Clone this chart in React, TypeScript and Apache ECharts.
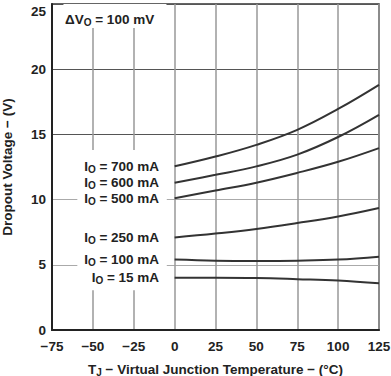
import React, { useEffect, useRef } from "react";
import * as echarts from "echarts";

const temps = [0, 25, 50, 75, 100, 125];
const io700 = [12.55, 13.3, 14.2, 15.35, 16.95, 18.8];
const io600 = [11.3, 11.9, 12.55, 13.45, 14.8, 16.5];
const io500 = [10.1, 10.7, 11.3, 12.05, 12.9, 13.95];
const io250 = [7.1, 7.4, 7.75, 8.2, 8.7, 9.35];
const io100 = [5.4, 5.32, 5.3, 5.32, 5.4, 5.62];
const io15 = [4.0, 4.0, 3.98, 3.9, 3.8, 3.58];
const seriesNames = ["700", "600", "500", "250", "100", "15"];
const seriesValues = [io700, io600, io500, io250, io100, io15];

const FONT = "Liberation Sans, Arial, sans-serif";

export default function App() {
  const ref = useRef<HTMLDivElement>(null);
  useEffect(() => {
    const chart = echarts.init(ref.current!, null, { renderer: "svg" });
    const subStyle = { fontFamily: FONT, fontWeight: "bold", fontSize: 10, color: "#222", verticalAlign: "bottom", padding: [6, 0, 0, 0] };
    const mainStyle = { fontFamily: FONT, fontWeight: "bold", fontSize: 13.5, color: "#222" };
    const series: any[] = seriesNames.map((name, i) => ({
      type: "line",
      name,
      smooth: 0.4,
      symbol: "circle",
      symbolSize: 1,
      showSymbol: true,
      itemStyle: { opacity: 0 },
      z: 3,
      lineStyle: { color: "#333", width: 2 },
      data: temps.map((t, k) => ({
        value: [t, seriesValues[i][k]],
        label:
          k === 0
            ? {
                show: true,
                position: "left",
                distance: 15,
                opacity: 1,
                formatter: `{a|I}{s|O}{a| = ${name} mA}`,
                rich: { a: mainStyle, s: subStyle },
              }
            : { show: false },
      })),
    }));
    // white boxes behind annotation texts (cover grid lines)
    series.push({
      type: "line",
      data: [],
      z: 2,
      markArea: {
        silent: true,
        itemStyle: { color: "#fff" },
        data: [
          [{ coord: [-59.5, 13.8] }, { coord: [-4.8, 3.05] }],
          [{ coord: [-68, 25] }, { coord: [-5, 23.15] }],
        ],
      },
    });
    chart.setOption({
      animation: false,
      grid: {
        left: 52,
        right: 12,
        top: 4,
        bottom: 46,
        containLabel: false,
        outerBoundsMode: "none",
        show: true,
        borderColor: "#333",
        borderWidth: 1.5,
      },
      xAxis: {
        type: "value",
        min: -75,
        max: 125,
        interval: 25,
        name: "T{s|J} − Virtual Junction Temperature − (°C)",
        nameLocation: "middle",
        nameGap: 31,
        nameTextStyle: { ...mainStyle, rich: { s: subStyle } },
        axisLine: { onZero: false, lineStyle: { color: "#222", width: 2 } },
        axisTick: { show: false },
        axisLabel: {
          margin: 9,
          ...mainStyle,
          formatter: (v: number) => (v < 0 ? "−" + Math.abs(v) : String(v)),
        },
        splitLine: { show: true, lineStyle: { color: "#999", width: 1.5 } },
      },
      yAxis: {
        type: "value",
        min: 0,
        max: 25,
        interval: 5,
        name: "Dropout Voltage − (V)",
        nameLocation: "middle",
        nameGap: 38,
        nameTextStyle: mainStyle,
        axisLine: { onZero: false, lineStyle: { color: "#222", width: 2 } },
        axisTick: { show: false },
        axisLabel: { margin: 6, ...mainStyle, verticalAlignMaxLabel: "top" },
        splitLine: {
          show: true,
          lineStyle: { color: ["#555", "#aaa", "#aaa", "#555", "#555", "#555"], width: 1 },
        },
      },
      graphic: [
        {
          type: "text",
          left: 65,
          top: 12,
          z: 10,
          style: {
            text: "{a|ΔV}{s|O}{a| = 100 mV}",
            rich: {
              a: { ...mainStyle, fill: "#222" },
              s: { ...subStyle, fill: "#222" },
            },
          },
        },
      ],
      series,
    });
    return () => chart.dispose();
  }, []);
  return <div ref={ref} style={{ width: 391, height: 376, position: "absolute", left: 0, top: 0, background: "#fff" }} />;
}
